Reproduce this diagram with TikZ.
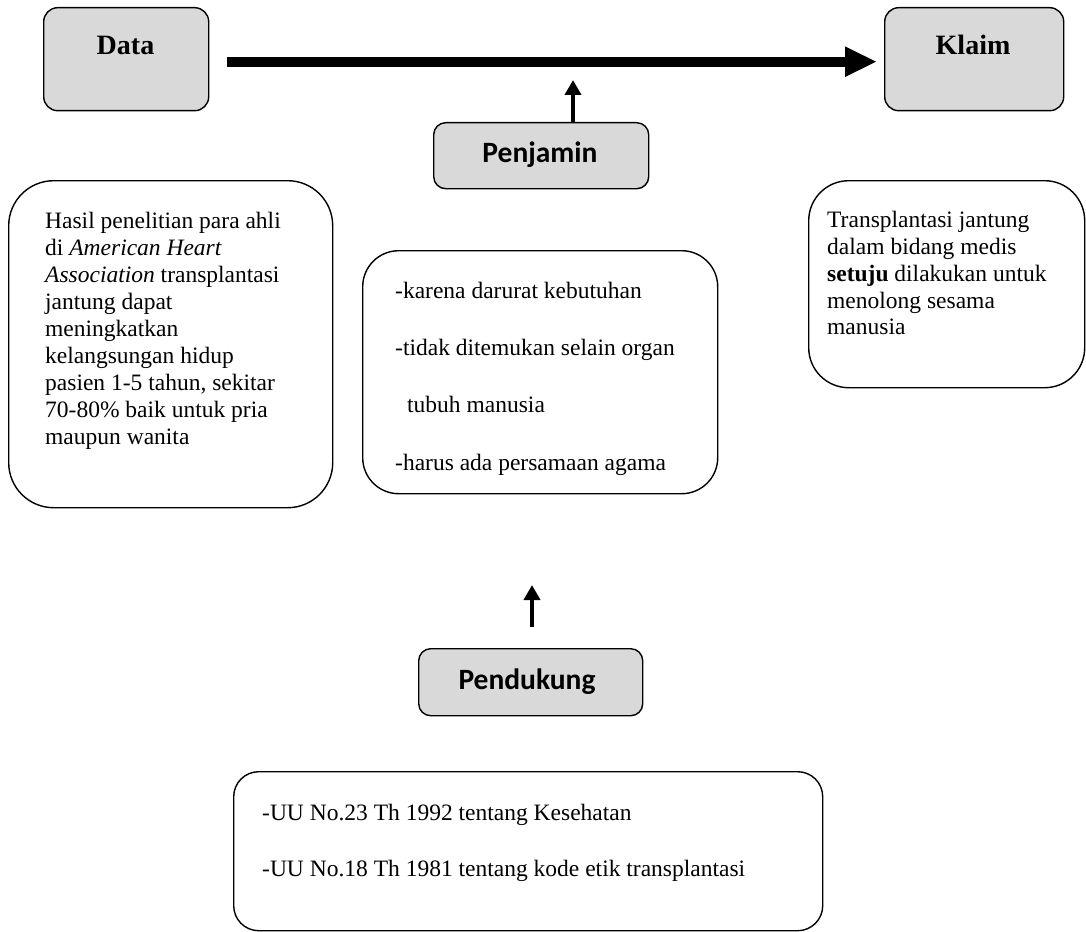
\documentclass[tikz,border=0pt]{standalone}
\usepackage{fontspec}
\setmainfont{Liberation Serif}
\newfontfamily\calib{Carlito}
\usetikzlibrary{arrows.meta}
\definecolor{boxgray}{HTML}{D9D9D9}
\begin{document}
\begin{tikzpicture}[x=1pt,y=-1pt,
  box/.style={draw, line width=1.4pt, anchor=north west, inner sep=0pt},
  graybox/.style={box, fill=boxgray, rounded corners=14pt},
  serifhead/.style={font=\fontsize{28}{32}\selectfont\bfseries, inner sep=0pt},
  sanshead/.style={font=\calib\fontsize{29.5}{34}\selectfont\bfseries, inner sep=0pt},
  body/.style={anchor=north west, inner sep=0pt, align=left},
  bigarrow/.style={line width=10pt, -{Triangle[length=32pt,width=28pt]}},
  smallarrow/.style={line width=4.5pt, -{Triangle[length=15pt,width=16pt]}}]
\useasboundingbox (0,0) rectangle (1086,931);

% top row
\node[graybox, minimum width=165pt, minimum height=103pt] (data) at (43,7) {};
\node[serifhead] (datat) at (125.5,45) {Data};
\node[graybox, minimum width=179pt, minimum height=103pt] (klaim) at (884,7) {};
\node[serifhead] (klaimt) at (973,45) {Klaim};
\draw[bigarrow, shorten <=18pt, shorten >=7pt] (data.east) ++(0,2.5) coordinate (ds) (ds) -- (ds -| klaim.west);

% penjamin
\node[graybox, rounded corners=12pt, minimum width=215pt, minimum height=66pt] (penjamin) at (433,122) {};
\node[sanshead] (penjamint) at (540,155) {Penjamin};
\coordinate (pjtip) at (573,80);
\draw[smallarrow] (penjamin.north -| pjtip) -- (pjtip);

% left box
\node[box, rounded corners=45pt, minimum width=324pt, minimum height=327pt] (left) at (8,180) {};
\node[body, font=\fontsize{23.5}{26.9}\selectfont] (leftt) at (45,209.8) {\strut Hasil penelitian para ahli\\
di \textit{American Heart}\\
\textit{Association} transplantasi\\
jantung dapat\\
meningkatkan\\
kelangsungan hidup\\
pasien 1-5 tahun, sekitar\\
70-80\%{} baik untuk pria\\
maupun wanita};

% middle box
\node[box, rounded corners=36pt, minimum width=355pt, minimum height=243pt] (mid) at (362,250) {};
\node[body, font=\fontsize{23.5}{57.3}\selectfont] (midt) at (395,258) {\strut -karena darurat kebutuhan\\
-tidak ditemukan selain organ\\
\hspace*{12pt}tubuh manusia\\
-harus ada persamaan agama};

% right box
\node[box, rounded corners=40pt, minimum width=276pt, minimum height=207pt] (right) at (808,180) {};
\node[body, font=\fontsize{23.5}{26.9}\selectfont] (rightt) at (827,208.3) {\strut Transplantasi jantung\\
dalam bidang medis\\
\textbf{setuju} dilakukan untuk\\
menolong sesama\\
manusia};

% pendukung
\node[graybox, rounded corners=12pt, minimum width=224pt, minimum height=67pt] (pendukung) at (418,648) {};
\node[sanshead] (pendukungt) at (527,682) {Pendukung};
\coordinate (pdtip) at (532,585);
\draw[smallarrow, shorten <=21pt] (pendukung.north -| pdtip) -- (pdtip);

% bottom box
\node[box, rounded corners=25pt, minimum width=589pt, minimum height=159pt] (bottom) at (233,771) {};
\node[body, font=\fontsize{23.5}{56.5}\selectfont] (bottomt) at (262,780.5) {\strut -UU No.23 Th 1992 tentang Kesehatan\\
-UU No.18 Th 1981 tentang kode etik transplantasi};
\end{tikzpicture}
\end{document}
